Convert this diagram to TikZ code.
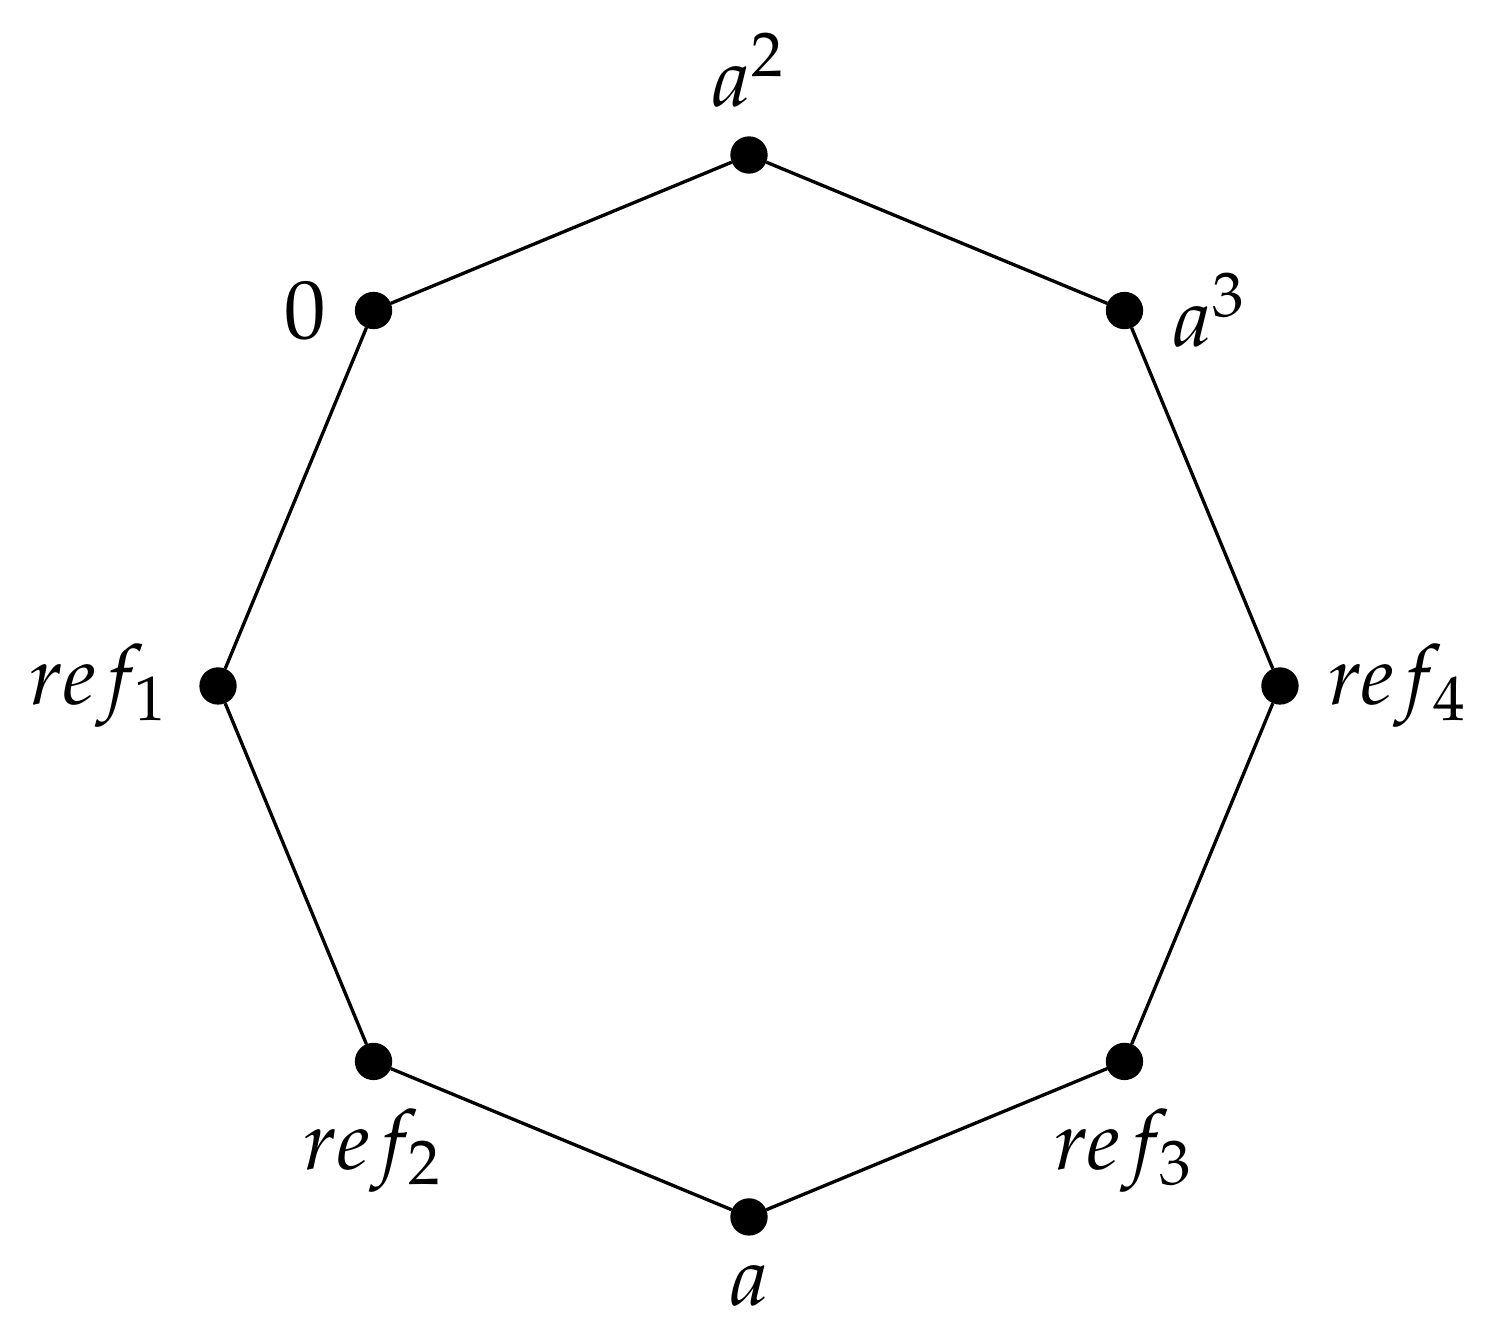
\documentclass[tikz,border=0pt]{standalone}
\usepackage{mathpazo}
\usepackage{tikz}

\begin{document}
\begin{tikzpicture}
                      \tikzstyle{point}=[circle,draw=black,fill=black,inner sep=0pt,minimum width=4.1pt,minimum height=4.1pt]
                      \useasboundingbox (-3.174,-2.733) rectangle (3.178,2.907);
                      \node[point,label=above:$a^2$] (a2) at (90:2.25) {};
                      \node[point,label=right:$a^3$] (a3) at (45:2.25) {};
                      \node[point,label=right:$ref_4$] (r4) at (0:2.25) {};
                      \node[point,label=below:$ref_3$] (r3) at (-45:2.25) {};
                      \node[point,label=below:$a$] (a) at (-90:2.25) {};
                      \node[point,label=below:$ref_2$] (r2) at (-135:2.25) {};
                      \node[point,label=left:$ref_1$] (r1) at (180:2.25) {};
                      \node[point,label=left:$0$] (z) at (135:2.25) {};
                      \draw (z) -- (a2) -- (a3) -- (r4) -- (r3) -- (a) -- (r2) -- (r1) -- (z);
                  \end{tikzpicture}
\end{document}
